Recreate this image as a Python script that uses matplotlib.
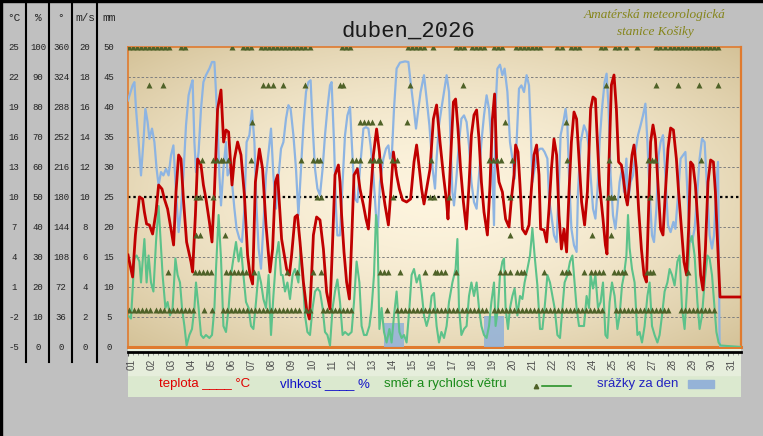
import matplotlib
matplotlib.use('Agg')
import matplotlib.pyplot as plt
import numpy as np
from matplotlib.lines import Line2D
from matplotlib.patches import Rectangle

# ---------------- data ----------------
day_labels = ['%02d' % d for d in range(1, 32)]

temp_t = [0.0,0.23,0.37,0.57,0.73,0.82,0.93,1.07,1.23,1.4,1.53,1.7,1.82,1.98,2.15,2.28,2.4,2.53,2.65,2.77,2.93,3.15,3.23,3.37,3.48,3.65,3.77,3.9,4.07,4.2,4.32,4.48,4.65,4.78,4.9,5.03,5.2,5.32,5.48,5.65,5.82,5.98,6.1,6.23,6.37,6.57,6.73,6.9,7.1,7.23,7.37,7.48,7.68,7.93,8.07,8.18,8.35,8.47,8.6,8.77,8.93,9.07,9.18,9.27,9.43,9.6,9.77,9.93,10.1,10.23,10.35,10.52,10.6,10.68,10.8,10.93,11.07,11.18,11.3,11.47,11.6,11.77,11.9,12.02,12.13,12.27,12.43,12.57,12.68,12.85,13.02,13.13,13.27,13.43,13.57,13.73,13.93,14.13,14.3,14.43,14.57,14.68,14.8,14.93,15.1,15.27,15.43,15.6,15.77,15.93,16.0,16.13,16.27,16.38,16.5,16.63,16.77,16.92,17.05,17.17,17.3,17.43,17.55,17.67,17.8,17.97,18.1,18.22,18.33,18.43,18.55,18.72,18.88,19.05,19.17,19.3,19.38,19.5,19.6,19.72,19.88,20.05,20.17,20.3,20.43,20.55,20.63,20.8,20.93,21.05,21.17,21.3,21.43,21.55,21.67,21.8,21.93,22.05,22.17,22.3,22.43,22.55,22.68,22.83,22.97,23.13,23.25,23.37,23.47,23.58,23.75,23.87,23.95,24.03,24.17,24.3,24.42,24.53,24.67,24.75,24.87,24.97,25.08,25.2,25.3,25.42,25.53,25.67,25.8,25.92,26.03,26.13,26.25,26.37,26.5,26.63,26.75,26.87,27.0,27.13,27.27,27.42,27.53,27.67,27.8,27.93,28.03,28.13,28.25,28.37,28.5,28.63,28.75,28.87,29.0,29.13,29.27,29.37,29.47,29.6,30.65]
temp_v = [4.2,2.0,6.2,10.0,9.8,8.5,7.3,7.2,6.3,8.5,11.2,10.8,9.8,8.8,6.8,5.2,10.5,14.2,13.8,9.8,5.5,3.5,2.5,8.2,13.8,13.2,11.2,9.8,7.5,5.5,10.5,18.8,20.7,15.5,16.7,16.5,11.2,13.8,15.5,14.2,10.2,4.2,2.2,1.3,11.5,14.8,12.8,7.2,2.5,4.8,11.5,12.2,5.8,2.8,2.2,4.2,8.0,8.2,5.5,1.5,-1.2,-2.2,2.2,6.2,8.0,7.7,4.8,0.5,-1.2,5.5,12.2,13.2,11.5,8.2,4.5,1.5,-0.2,5.5,12.2,12.8,10.8,9.2,7.8,6.8,10.2,14.2,16.8,14.5,11.5,9.2,7.2,10.2,14.5,12.2,10.8,9.7,9.5,9.8,13.5,15.2,12.8,10.8,9.3,10.8,12.8,17.8,19.2,15.5,12.2,9.5,7.8,13.8,19.5,19.8,16.8,12.8,9.5,6.8,11.2,16.2,18.2,18.7,15.8,11.5,8.5,6.2,11.2,17.8,20.3,13.8,11.5,10.5,7.8,7.0,9.8,12.2,15.2,14.5,11.2,6.8,6.3,7.2,10.8,14.2,15.2,12.2,6.8,6.7,5.5,8.8,12.8,15.8,14.2,8.2,4.8,6.8,4.5,10.5,15.5,18.5,17.8,13.8,9.5,7.2,10.5,18.8,20.0,19.8,15.5,11.2,7.8,5.2,4.3,12.2,21.2,22.2,18.8,13.5,13.2,12.2,10.2,9.2,11.5,14.2,15.2,12.8,8.8,4.8,2.2,1.5,8.8,15.5,17.2,15.8,11.2,6.8,6.2,10.5,14.8,16.9,16.7,13.8,10.5,6.8,3.5,2.2,6.8,13.5,13.2,11.2,7.2,2.2,0.7,4.8,11.5,13.7,13.5,10.5,5.8,0.0,0.0]

hum_t = [0.0,0.23,0.32,0.4,0.53,0.65,0.77,0.87,0.98,1.07,1.2,1.32,1.43,1.53,1.65,1.77,1.9,2.03,2.15,2.27,2.4,2.53,2.65,2.77,2.9,3.03,3.15,3.23,3.32,3.4,3.53,3.65,3.77,3.9,4.07,4.2,4.32,4.4,4.48,4.57,4.65,4.77,4.9,4.98,5.1,5.2,5.32,5.43,5.57,5.7,5.82,5.93,6.07,6.2,6.32,6.43,6.53,6.65,6.77,6.9,7.03,7.15,7.27,7.4,7.53,7.65,7.77,7.9,8.02,8.13,8.27,8.4,8.52,8.63,8.77,8.9,9.02,9.13,9.23,9.35,9.47,9.6,9.73,9.85,9.97,10.1,10.18,10.3,10.4,10.47,10.6,10.73,10.85,10.97,11.1,11.23,11.35,11.47,11.6,11.77,11.9,12.02,12.13,12.27,12.4,12.5,12.6,12.77,12.9,13.02,13.1,13.2,13.3,13.43,13.6,13.85,14.02,14.13,14.27,14.4,14.52,14.63,14.8,14.93,15.07,15.23,15.35,15.43,15.55,15.67,15.8,15.93,16.05,16.13,16.22,16.3,16.43,16.55,16.67,16.8,16.93,17.05,17.17,17.3,17.43,17.55,17.67,17.8,17.93,18.05,18.17,18.3,18.38,18.47,18.6,18.72,18.83,18.97,19.1,19.22,19.33,19.43,19.55,19.67,19.8,19.93,20.05,20.13,20.22,20.33,20.47,20.6,20.72,20.83,20.97,21.05,21.17,21.3,21.43,21.55,21.63,21.77,21.88,21.97,22.05,22.17,22.3,22.43,22.5,22.63,22.8,22.93,23.05,23.13,23.25,23.37,23.47,23.58,23.7,23.83,23.93,24.03,24.13,24.25,24.37,24.47,24.58,24.7,24.8,24.92,25.0,25.13,25.25,25.37,25.5,25.63,25.75,25.87,25.97,26.08,26.2,26.3,26.42,26.53,26.63,26.75,26.87,27.0,27.13,27.27,27.37,27.5,27.63,27.75,27.87,27.97,28.08,28.2,28.33,28.47,28.58,28.7,28.83,28.97,29.08,29.2,29.3,29.4,29.5,29.58,29.62,30.65]
hum_v = [82.2,87.2,88.3,79.4,68.3,57.2,68.3,79.4,75,69.4,72.8,68.3,59.4,53.9,58.3,57.2,59.4,57.2,63.9,67.2,51.7,38.3,46.1,57.2,73.9,83.9,87.2,88.9,68.3,58.3,65,79.4,88.3,90.6,92.8,95,95,85,73.9,57.2,47.2,59.4,68.3,57.2,59.4,55,46.1,39.4,36.1,35,46.1,68.3,70.6,78.9,68.3,46.1,32.8,26.1,40.6,57.2,65,72.8,57.2,46.1,57.2,66.1,68.3,76.1,80.6,79.4,70.6,59.4,43.9,57.2,73.9,85,88.3,88.9,73.9,59.4,52.8,50.6,59.4,70.6,79.4,87.2,88.3,68.3,46.1,37.2,37.2,55,70.6,77.2,80,62.8,49.4,48.3,59.4,72.8,73.3,72.8,67.2,57.2,43.9,40,55,62.8,66.1,67.2,62.8,65,79.4,92.8,94.8,95.2,95,88.3,80.6,72.8,79.4,85,90.6,82.8,73.9,59.4,52.8,62.8,73.9,79.4,85,90.6,85,68.3,51.7,47.2,57.2,68.3,76.1,77.2,75,67.2,55,48.3,46.1,57.2,68.3,77.2,83.9,79.4,68.3,40.6,79.4,92.8,94.1,90.6,92.8,85,68.3,62.8,56.1,68.3,86.1,87.2,85,90.6,87.2,73.9,55,59.4,65,66.1,66.1,65,62.8,49.4,43.9,37.2,35,55,70.6,75,79.4,73.9,57.2,39.4,33.9,31.7,51.7,68.3,73.9,71.7,66.1,57.2,46.1,42.8,51.7,68.3,79.4,88.3,91.1,79.4,57.2,43.9,39.4,46.1,55,59.4,51.7,62.8,48.3,55,57.2,65,70.6,73.9,77.2,81.1,68.3,51.7,37.2,35,46.1,63.9,68.3,70.6,57.2,40.6,38.3,41.7,39.4,50.6,62.8,63.9,65,51.7,37.2,35,39.4,51.7,62.8,69.4,68.3,50.6,37.2,32.8,37.2,51.7,61.7,1.7,0,0]

wind_t = [0.0,0.15,0.32,0.43,0.57,0.65,0.82,0.93,1.03,1.15,1.27,1.4,1.53,1.65,1.73,1.87,1.98,2.1,2.23,2.37,2.48,2.6,2.7,2.82,2.93,3.07,3.2,3.32,3.4,3.53,3.65,3.77,3.9,4.07,4.2,4.32,4.4,4.53,4.65,4.77,4.9,5.03,5.15,5.27,5.4,5.53,5.65,5.77,5.9,6.03,6.15,6.27,6.4,6.53,6.65,6.77,6.9,7.03,7.15,7.27,7.4,7.53,7.65,7.73,7.85,7.97,8.1,8.23,8.35,8.52,8.63,8.73,8.85,8.97,9.1,9.23,9.35,9.47,9.6,9.73,9.85,9.97,10.1,10.23,10.35,10.47,10.6,10.73,10.85,11.02,11.18,11.3,11.43,11.57,11.68,11.8,11.93,12.07,12.18,12.3,12.4,12.47,12.57,12.68,12.8,12.93,13.07,13.18,13.3,13.43,13.57,13.68,13.8,13.93,14.07,14.18,14.3,14.43,14.57,14.68,14.8,14.93,15.07,15.18,15.3,15.43,15.55,15.67,15.8,15.93,16.05,16.22,16.38,16.47,16.55,16.67,16.8,16.93,17.05,17.17,17.3,17.43,17.55,17.67,17.8,17.93,18.05,18.17,18.3,18.38,18.5,18.6,18.72,18.8,18.88,19.0,19.1,19.22,19.33,19.47,19.6,19.72,19.83,19.97,20.1,20.22,20.33,20.47,20.6,20.72,20.83,20.97,21.1,21.22,21.33,21.47,21.6,21.72,21.83,21.97,22.1,22.22,22.33,22.43,22.55,22.67,22.8,22.93,23.05,23.13,23.25,23.37,23.5,23.63,23.75,23.87,23.97,24.08,24.2,24.33,24.47,24.58,24.7,24.8,24.92,25.0,25.08,25.2,25.33,25.47,25.58,25.7,25.83,25.97,26.08,26.2,26.33,26.47,26.58,26.7,26.83,26.97,27.08,27.2,27.33,27.47,27.58,27.7,27.83,27.97,28.08,28.2,28.33,28.47,28.58,28.7,28.83,28.97,29.08,29.2,29.33,29.42,29.53,29.63,30.65]
wind_v = [2.1,1.9,5.9,6.1,5.7,4.3,7.2,4.3,6.1,4.3,3.7,7.0,9.4,6.6,4.8,2.6,3.0,2.1,2.6,5.9,4.8,4.3,2.6,1.4,0.1,0.8,1.2,2.6,4.3,2.6,0.8,0.6,0.8,0.6,0.8,2.6,5.2,8.8,5.9,1.4,1.0,2.6,4.8,5.9,7.0,5.7,6.6,4.8,3.0,2.6,1.4,1.2,3.0,5.0,4.3,3.2,2.6,4.8,0.8,3.4,5.9,7.0,4.8,4.8,3.7,4.3,3.2,4.8,5.2,4.3,6.6,4.8,2.1,1.0,0.8,2.6,3.7,3.9,3.7,2.6,1.0,0.8,0.1,2.6,3.7,4.5,3.0,0.8,1.0,0.8,1.0,3.0,5.7,4.3,1.4,0.8,0.8,1.4,2.6,4.8,8.8,7.9,1.2,2.6,1.0,0.3,1.2,0.3,2.1,3.7,1.0,0.6,0.8,0.3,2.6,4.8,5.2,4.3,4.8,3.7,2.1,1.4,2.1,3.4,3.6,1.4,0.3,1.0,0.6,1.4,3.0,4.3,5.2,7.2,2.6,0.8,1.2,1.4,3.4,4.3,3.4,4.3,2.6,1.4,0.8,0.6,1.4,3.0,4.3,1.4,2.6,4.8,5.7,5.9,2.6,1.2,2.6,3.4,3.9,2.1,3.4,3.2,4.3,5.2,6.1,7.9,6.1,4.1,1.2,1.2,2.6,4.8,4.3,3.4,2.6,0.8,0.6,2.6,4.3,4.8,5.7,6.1,4.3,2.6,1.4,1.4,1.4,3.4,2.6,4.8,3.9,4.8,2.6,3.0,4.3,0.8,0.6,3.0,4.3,3.4,1.2,2.1,4.1,4.8,6.1,8.8,6.6,5.2,4.3,0.8,1.0,0.3,1.4,3.4,4.3,1.4,0.8,0.3,0.8,2.1,3.7,4.3,5.2,4.8,4.1,5.7,6.1,2.6,1.2,4.3,7.0,7.4,6.1,3.0,1.2,2.1,4.3,6.1,5.9,4.8,2.6,1.0,0.3,0.1,0.0]

# wind direction samples (time in days) per direction
dir_045 = [0.05,0.3,0.5,0.7,0.9,1.1,1.4,1.6,1.8,2.05,2.25,2.45,2.65,2.85,3.05,3.25,3.8,4.2,4.75,4.95,5.15,5.35,5.55,5.75,5.95,6.15,6.35,6.55,6.75,6.95,7.15,7.35,7.55,7.75,7.95,8.15,8.35,8.55,8.9,9.1,9.75,9.95,10.15,10.35,10.55,10.75,10.95,11.15,12.95,13.45,13.65,13.85,14.05,14.25,14.45,14.65,14.85,15.05,15.25,15.45,15.65,15.85,16.05,16.25,16.45,16.7,16.9,17.1,17.3,17.5,17.7,17.9,18.3,18.5,18.7,18.9,19.1,19.3,19.5,19.7,19.9,20.1,20.3,20.5,20.7,20.9,21.1,21.3,21.5,21.7,21.9,22.1,22.3,22.5,22.7,22.9,23.1,23.3,23.5,23.7,24.4,24.6,24.8,25.0,25.2,25.4,25.6,25.8,26.0,26.2,26.4,26.6,26.8,27.0,27.65,27.85,28.05,28.25,28.45,28.65,28.85,29.05,29.3]
dir_090 = [2.0,3.35,3.55,3.75,3.95,4.15,4.9,5.1,5.3,5.5,5.7,5.9,6.3,7.95,8.45,9.25,9.65,12.6,12.8,13.0,13.6,14.85,15.35,15.45,15.65,15.85,16.4,18.6,18.85,19.1,19.45,19.65,19.8,20.8,21.7,21.9,22.05,22.8,23.15,23.35,23.55,23.75,24.3,24.5,24.7,24.85,25.95,26.1,26.25,28.0]
dir_135 = [3.4,3.6,4.85,19.1,23.2,24.15]
dir_180 = [3.4,3.6,4.25,9.45,9.65,13.25,15.1,15.3,16.05,19.1,24.0,24.15,24.3,26.1]
dir_225 = [3.7,4.25,4.45,4.65,4.75,5.0,6.15,8.65,9.25,9.45,9.6,11.2,11.4,11.6,12.1,12.3,12.5,12.6,13.2,13.45,15.15,18.05,18.25,18.45,18.65,19.2,21.95,24.05,26.0,26.2,26.35,28.65]
dir_270 = [6.2,11.6,11.8,12.0,12.2,12.6,13.95,18.85,21.9]
dir_315 = [1.05,1.75,6.75,7.0,7.25,7.75,8.85,10.6,10.75,14.1,16.75,23.9,26.4,27.5,28.53,29.5]
dir_360 = [0.05,0.25,0.45,0.65,0.85,1.05,1.25,1.45,1.65,1.85,2.05,2.65,2.85,5.2,5.75,5.95,6.15,6.65,6.85,7.05,7.25,7.45,7.65,7.85,8.05,8.25,8.45,8.65,8.85,9.1,10.7,10.9,11.1,14.0,14.2,14.4,14.6,14.8,15.25,16.4,16.6,16.8,17.2,17.4,17.6,17.8,18.3,18.5,18.7,19.4,19.6,19.8,20.0,20.2,20.4,20.6,21.45,21.7,22.15,22.35,22.55,23.65,23.85,24.35,24.55,24.9,25.45,26.4,26.6,26.85,27.1,27.3,27.5,27.7,27.9,28.1,28.3,28.5,28.7,28.9,29.1,29.3,29.5]

rain_days = [14, 19]
rain_mm = [4.0, 5.2]

# axis scales (left columns)
temp_ticks = [25, 22, 19, 16, 13, 10, 7, 4, 1, -2, -5]
hum_ticks = [100, 90, 80, 70, 60, 50, 40, 30, 20, 10, 0]
deg_ticks = [360, 324, 288, 252, 216, 180, 144, 108, 72, 36, 0]
ms_ticks = [20, 18, 16, 14, 12, 10, 8, 6, 4, 2, 0]
mm_ticks = [50, 45, 40, 35, 30, 25, 20, 15, 10, 5, 0]
col_headers = ['°C', '%', '°', 'm/s', 'mm']

# ---------------- layout ----------------
W, H = 763, 436
fig = plt.figure(figsize=(W / 100, H / 100), dpi=100, facecolor='#c0c0c0')

def fx(px):
    return px / W

def fy(py):
    return 1 - py / H

XMAX = 30.65
L, R, T, B = 128, 741, 47, 347

ax = fig.add_axes([fx(L), fy(B), fx(R) - fx(L), fy(T) - fy(B)])
ax.set_xlim(0, XMAX)
ax.set_ylim(-5, 25)

# beige "from centre" gradient background
gu = np.linspace(0, 1, 300)
gv = np.linspace(0, 1, 200)
GU, GV = np.meshgrid(gu, gv)
rr = np.sqrt(((GU - 0.5) * 2) ** 2 + ((GV - 0.5) * 2) ** 2) / np.sqrt(2)
ff = np.clip(rr, 0, 1) ** 1.7
light = np.array([253, 244, 222]) / 255
dark = np.array([212, 194, 152]) / 255
img = light[None, None, :] * (1 - ff[..., None]) + dark[None, None, :] * ff[..., None]
ax.imshow(img, extent=[0, XMAX, -5, 25], aspect='auto', origin='lower', zorder=0,
          interpolation='bilinear')
ax.set_xlim(0, XMAX)
ax.set_ylim(-5, 25)

for yv in temp_ticks[1:-1]:
    if yv == 10:
        ax.axhline(yv, color='black', lw=1.6, ls=(0, (1.1, 1.3)), zorder=1)
    else:
        ax.axhline(yv, color='#7f7f7f', lw=0.7, ls=(0, (2.5, 2)), zorder=1)

ax.set_xticks([])
ax.set_yticks([])
for s in ax.spines.values():
    s.set_color('#e07a2e')
    s.set_linewidth(1.2)
ax.spines['bottom'].set_linewidth(2.2)
ax.spines['right'].set_linewidth(1.6)


def overlay(lo, hi):
    a = ax.twinx()
    a.set_ylim(lo, hi)
    a.set_xlim(0, XMAX)
    a.axis('off')
    return a

ax_r = overlay(0, 50)
ax_r.bar([d - 0.7 for d in rain_days], rain_mm, width=0.97, color='#95b3d7',
         alpha=0.9, linewidth=0)

ax_h = overlay(0, 100)
ax_h.plot(hum_t, hum_v, color='#8db4e2', lw=1.6, solid_joinstyle='round')

ax_w = overlay(0, 20)
ax_w.plot(wind_t, wind_v, color='#5cc28a', lw=1.5, solid_joinstyle='round')

ax_t = overlay(-5, 25)
ax_t.plot(temp_t, temp_v, color='#c00000', lw=2.0, solid_joinstyle='round')

ax_d = overlay(0, 360)
for deg, times in [(45, dir_045), (90, dir_090), (135, dir_135), (180, dir_180),
                   (225, dir_225), (270, dir_270), (315, dir_315), (360, dir_360)]:
    ax_d.plot(times, [deg] * len(times), ls='none', marker='^', ms=4.6,
              color='#4f6228', mec='none')
ax_d.set_ylim(0, 360)
ax_d.set_xlim(0, XMAX)

# ---------------- lower band ----------------
ax_b = fig.add_axes([fx(L), fy(397), fx(R) - fx(L), fy(349) - fy(397)])
ax_b.set_xlim(0, XMAX)
ax_b.set_ylim(0, 1)
ax_b.axis('off')
ax_b.add_patch(Rectangle((0, 0), XMAX, 1, color='#dbe9cf', zorder=0))
ax_b.add_patch(Rectangle((0, 22 / 48), XMAX, 26 / 48, color='#e6eedc', zorder=0))
for i, lab in enumerate(day_labels):
    ax_b.text(i + 0.2, 0.67, lab, rotation=90, ha='center', va='center',
              fontsize=7.2, color='#505050', family='Liberation Sans')

ax_k = fig.add_axes([fx(L), fy(352), fx(R) - fx(L), 0.0005])
ax_k.set_xlim(0, XMAX)
ax_k.patch.set_visible(False)
for side in ['top', 'left', 'right']:
    ax_k.spines[side].set_visible(False)
ax_k.spines['bottom'].set_color('black')
ax_k.spines['bottom'].set_linewidth(2.0)
ax_k.set_yticks([])
ax_k.set_xticks(np.arange(0, 31, 1))
ax_k.set_xticks(np.arange(0, XMAX, 0.25), minor=True)
ax_k.tick_params(axis='x', which='major', length=3, width=0.8, color='#555555',
                 labelbottom=False, direction='out')
ax_k.tick_params(axis='x', which='minor', length=2, width=0.6, color='#888888',
                 direction='out')

# legend row
leg_font = ['Liberation Sans Narrow', 'Liberation Sans']
ly = fy(384)
fig.text(fx(159), ly, 'teplota ____ °C', color='#e00000', fontsize=9.5,
         ha='left', va='center', family=leg_font)
fig.text(fx(280), ly, 'vlhkost ____ %', color='#1010c8', fontsize=9.5,
         ha='left', va='center', family=leg_font)
fig.text(fx(384), ly, 'směr a rychlost větru', color='#1a8a1a', fontsize=9.5,
         ha='left', va='center', family=leg_font)
fig.add_artist(Line2D([fx(536)], [fy(386)], marker='^', ms=3.2, color='#4f6228',
                      ls='none'))
fig.add_artist(Line2D([fx(542), fx(571)], [fy(386), fy(386)], color='#1a8a1a', lw=1.1))
fig.text(fx(597), ly, 'srážky za den', color='#2424c0', fontsize=9.5,
         ha='left', va='center', family=leg_font)
fig.add_artist(Rectangle((fx(688), fy(388)), fx(714) - fx(688), fy(380) - fy(388),
                         transform=fig.transFigure, color='#95b3d7'))

# ---------------- titles ----------------
fig.text(fx(408), fy(31), 'duben_2026', family='Liberation Mono', fontsize=16,
         ha='center', va='center', color='#1a1a1a')
fig.text(fx(655), fy(15), 'Amatérská meteorologická', family='Liberation Serif',
         style='italic', fontsize=9.5, ha='center', va='center', color='#85851a')
fig.text(fx(655), fy(32), 'stanice Košiky', family='Liberation Serif',
         style='italic', fontsize=9.5, ha='center', va='center', color='#85851a')

# ---------------- left scale columns ----------------
ax_l = fig.add_axes([0, fy(B), fx(121), fy(T) - fy(B)])
ax_l.set_xlim(0, 121)
ax_l.set_ylim(-5, 25)
ax_l.axis('off')
col_x = [14, 38, 61, 85, 109]
columns = [temp_ticks, hum_ticks, deg_ticks, ms_ticks, mm_ticks]
for cx, vals in zip(col_x, columns):
    for yv, v in zip(temp_ticks, vals):
        ax_l.text(cx, yv, str(v), ha='center', va='center', fontsize=6.5,
                  family='Liberation Mono', color='#222222')
for cx, hd in zip(col_x, col_headers):
    fig.text(fx(cx), fy(18), hd, ha='center', va='center', fontsize=8,
             family='Liberation Mono', color='#222222')

for vx in [26, 49, 72, 97]:
    fig.add_artist(Line2D([fx(vx), fx(vx)], [fy(0), fy(362)], color='black', lw=1.5))
fig.add_artist(Rectangle((0, fy(2)), 1, fy(0) - fy(2), transform=fig.transFigure,
                         color='black'))
fig.add_artist(Rectangle((0, 0), fx(2), 1, transform=fig.transFigure, color='black'))

fig.savefig('out.png', dpi=100, facecolor=fig.get_facecolor())
